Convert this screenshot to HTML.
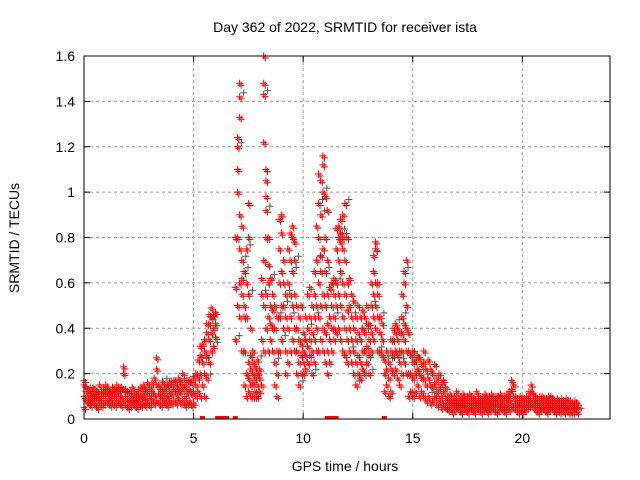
<!DOCTYPE html>
<html><head><meta charset="utf-8"><style>
body{margin:0;background:#fff;}
svg{display:block;font-family:"Liberation Sans",sans-serif;}
</style></head><body>
<svg id="chart" width="640" height="480" viewBox="0 0 640 480">
<rect width="640" height="480" fill="#fff"/>
<text x="345" y="32" font-size="14" text-anchor="middle" fill="#000">Day 362 of 2022, SRMTID for receiver ista</text>
<text x="19" y="238" font-size="14" text-anchor="middle" fill="#000" transform="rotate(-90 19 238)">SRMTID / TECUs</text>
<text x="345" y="471" font-size="14" text-anchor="middle" fill="#000">GPS time / hours</text>
<g id="grid"></g><g id="ticks"></g><g id="marks"></g>
<rect x="84" y="56" width="526" height="363" fill="none" stroke="#000" stroke-width="1"/>
</svg>
<script>
const xTicks=[0,5,10,15,20];
const yTicks=[0,0.2,0.4,0.6,0.8,1,1.2,1.4,1.6];
const yTickLabels=["0","0.2","0.4","0.6","0.8","1","1.2","1.4","1.6"];
const times=[0,0.1,0.2,0.3,0.4,0.5,0.6,0.7,0.8,0.9,1.0,1.1,1.2,1.3,1.4,1.5,1.6,1.7,1.8,1.9,2.0,2.1,2.2,2.3,2.4,2.5,2.6,2.7,2.8,2.9,3.0,3.1,3.2,3.3,3.4,3.5,3.6,3.7,3.8,3.9,4.0,4.1,4.2,4.3,4.4,4.5,4.6,4.7,4.8,4.9,5.0,5.1,5.2,5.3,5.4,5.5,5.6,5.7,5.8,5.9,6.0,
6.9,7.0,7.1,7.2,7.3,7.4,7.5,7.6,7.7,7.8,7.9,8.0,8.1,8.2,8.3,8.4,8.5,8.6,8.7,8.8,8.9,9.0,9.1,9.2,9.3,9.4,9.5,9.6,9.7,9.8,9.9,10.0,10.1,10.2,10.3,10.4,10.5,10.6,10.7,10.8,10.9,11.0,11.1,11.2,11.3,11.4,11.5,11.6,11.7,11.8,11.9,12.0,12.1,12.2,12.3,12.4,12.5,12.6,12.7,12.8,12.9,13.0,13.1,13.2,13.3,13.4,13.5,13.6,13.7,13.8,13.9,14.0,14.1,14.2,14.3,14.4,14.5,14.6,14.7,14.8,14.9,15.0,15.1,15.2,15.3,15.4,15.5,15.6,15.7,15.8,15.9,16.0,16.1,16.2,16.3,16.4,16.5,
16.6,16.7,16.8,16.9,17.0,17.1,17.2,17.3,17.4,17.5,17.6,17.7,17.8,17.9,18.0,18.1,18.2,18.3,18.4,18.5,18.6,18.7,18.8,18.9,19.0,19.1,19.2,19.3,19.4,19.5,19.6,19.7,19.8,19.9,20.0,20.1,20.2,20.3,20.4,20.5,20.6,20.7,20.8,20.9,21.0,21.1,21.2,21.3,21.4,21.5,21.6,21.7,21.8,21.9,22.0,22.1,22.2,22.3,22.4,22.5];
const values=[[0.05,0.1,0.15,0.17],[0.08,0.12,0.14],[0.07,0.1,0.13],[0.06,0.09,0.12],[0.08,0.11,0.14],[0.06,0.1,0.13],[0.05,0.09,0.12],[0.07,0.1,0.15],[0.06,0.09,0.12],[0.07,0.11,0.14],[0.08,0.12,0.15],[0.07,0.1,0.13],[0.06,0.09,0.12],[0.07,0.11,0.14],[0.06,0.1,0.13],[0.08,0.12,0.15],[0.07,0.1,0.13],[0.06,0.1,0.14],[0.08,0.13,0.2,0.23],[0.06,0.1,0.13],[0.05,0.08,0.12],[0.06,0.09,0.12],[0.07,0.1,0.14],[0.06,0.09,0.12],[0.05,0.08,0.11],[0.07,0.1,0.13],[0.06,0.1,0.14],[0.07,0.11,0.15],[0.06,0.09,0.13],[0.07,0.12,0.16],[0.06,0.1,0.14],[0.08,0.12,0.16],[0.07,0.11,0.18],[0.08,0.15,0.22,0.27],[0.07,0.11,0.15],[0.06,0.1,0.13],[0.08,0.12,0.16],[0.07,0.1,0.14],[0.06,0.1,0.15],[0.08,0.12,0.16],[0.07,0.11,0.15],[0.08,0.13,0.17],[0.07,0.11,0.15],[0.09,0.13,0.18],[0.07,0.12,0.16],[0.08,0.14,0.2],[0.06,0.1,0.15],[0.07,0.12,0.17],[0.08,0.13,0.17],[0.06,0.11,0.16],[0.07,0.12,0.18],[0.1,0.15,0.2],[0.12,0.18,0.26],[0.1,0.2,0.28,0.32],[0.15,0.25,0.33],[0.1,0.2,0.3,0.35],[0.18,0.28,0.38,0.42],[0.25,0.35,0.42,0.46],[0.3,0.38,0.45,0.49],[0.32,0.4,0.46],[0.36,0.42,0.47],
[0.35,0.58,0.8],[0.5,0.8,1.0,1.2,1.24,1.1],[0.6,0.9,1.33,1.42,1.48,0.75,0.45],[0.3,0.55,0.7,0.85,0.62],[0.15,0.3,0.5,0.65,0.45],[0.1,0.2,0.45,0.6,0.75],[0.12,0.18,0.25,0.8,0.95,0.55],[0.1,0.15,0.22,0.28,0.4],[0.1,0.16,0.2,0.25,0.3],[0.12,0.18,0.23,0.1],[0.1,0.15,0.2,0.26],[0.12,0.18,0.22],[0.15,0.35,0.55,0.62],[0.3,0.5,0.7,1.22,1.43,1.48,1.6],[0.4,0.55,0.8,0.92,0.98,1.05,1.1],[0.3,0.45,0.6,0.68,0.8],[0.35,0.5,0.42,0.62],[0.3,0.4,0.55,0.48],[0.15,0.25,0.4,0.5],[0.1,0.2,0.3,0.45],[0.3,0.45,0.6,0.75,0.88],[0.35,0.5,0.65,0.82,0.9],[0.4,0.5,0.6,0.7],[0.2,0.3,0.45,0.55],[0.25,0.4,0.6,0.75],[0.3,0.45,0.55,0.7,0.82],[0.35,0.5,0.65,0.8,0.85],[0.3,0.4,0.55,0.7,0.78],[0.2,0.3,0.4,0.5],[0.15,0.25,0.35,0.45],[0.2,0.28,0.33,0.5],[0.2,0.25,0.3,0.38],[0.22,0.28,0.35,0.45],[0.25,0.32,0.4,0.55],[0.28,0.35,0.45,0.58],[0.2,0.3,0.38,0.5],[0.25,0.35,0.45,0.55,0.65],[0.3,0.4,0.5,0.7,0.85],[0.3,0.45,0.6,0.8,0.95,1.08],[0.35,0.5,0.65,0.72,0.9,1.05],[0.3,0.4,0.55,0.75,1.0,1.12,1.16],[0.25,0.38,0.5,0.65,0.8,0.98],[0.2,0.3,0.42,0.55,0.7,0.92],[0.25,0.35,0.45,0.58],[0.3,0.4,0.5,0.6],[0.35,0.45,0.55,0.62,0.4],[0.38,0.5,0.6,0.75,0.84],[0.4,0.55,0.7,0.8,0.85],[0.35,0.5,0.65,0.78,0.82,0.88],[0.3,0.45,0.6,0.75,0.8,0.9],[0.28,0.4,0.55,0.7,0.95],[0.25,0.35,0.48,0.6,0.8],[0.3,0.4,0.5,0.62],[0.25,0.35,0.45,0.55],[0.2,0.3,0.4,0.52],[0.15,0.25,0.35,0.45],[0.2,0.28,0.38,0.5],[0.18,0.25,0.35,0.45],[0.22,0.3,0.4,0.48],[0.2,0.3,0.38,0.45],[0.25,0.32,0.42,0.5],[0.2,0.28,0.35,0.42],[0.3,0.38,0.5,0.6],[0.35,0.45,0.55,0.65,0.72],[0.4,0.5,0.6,0.75,0.78],[0.3,0.45,0.55,0.6],[0.3,0.38,0.45],[0.28,0.35,0.42],[0.12,0.2,0.26],[0.15,0.22,0.3],[0.1,0.18,0.25],[0.12,0.22,0.3,0.35],[0.2,0.28,0.35,0.4],[0.22,0.3,0.38,0.42],[0.18,0.28,0.35,0.4],[0.15,0.25,0.3,0.38],[0.2,0.3,0.38,0.45,0.55],[0.25,0.35,0.42,0.6,0.65],[0.2,0.3,0.4,0.5,0.7],[0.1,0.2,0.3,0.38],[0.12,0.2,0.28],[0.1,0.18,0.25,0.3],[0.12,0.2,0.26],[0.15,0.22,0.28],[0.1,0.2,0.27],[0.12,0.18,0.24],[0.1,0.18,0.25,0.3],[0.08,0.15,0.22],[0.1,0.18,0.26],[0.07,0.15,0.22],[0.08,0.14,0.2],[0.1,0.16,0.24],[0.06,0.12,0.18],[0.08,0.14,0.2],[0.05,0.1,0.16],[0.06,0.12,0.17],[0.05,0.09,0.14],
[0.04,0.07,0.1],[0.05,0.08,0.11],[0.03,0.06,0.09],[0.04,0.07,0.1],[0.05,0.08,0.12],[0.04,0.06,0.09],[0.03,0.07,0.1],[0.05,0.08,0.11],[0.04,0.06,0.09],[0.03,0.06,0.1],[0.05,0.08,0.11],[0.04,0.07,0.1],[0.03,0.06,0.09],[0.05,0.08,0.12],[0.04,0.07,0.1],[0.03,0.06,0.09],[0.04,0.07,0.1],[0.05,0.08,0.11],[0.03,0.06,0.09],[0.04,0.07,0.1],[0.05,0.08,0.11],[0.04,0.06,0.09],[0.03,0.07,0.1],[0.04,0.07,0.1],[0.05,0.08,0.11],[0.04,0.06,0.09],[0.03,0.06,0.1],[0.05,0.08,0.11],[0.04,0.09,0.12],[0.06,0.13,0.17],[0.05,0.1,0.15],[0.04,0.07,0.1],[0.03,0.06,0.09],[0.04,0.07,0.1],[0.03,0.06,0.09],[0.04,0.06,0.09],[0.05,0.08,0.1],[0.06,0.09,0.12],[0.07,0.12,0.15],[0.05,0.09,0.11],[0.04,0.07,0.1],[0.03,0.06,0.09],[0.04,0.07,0.1],[0.05,0.08,0.1],[0.04,0.06,0.09],[0.03,0.06,0.09],[0.04,0.07,0.1],[0.05,0.08,0.1],[0.04,0.06,0.09],[0.03,0.05,0.08],[0.04,0.06,0.09],[0.03,0.06,0.08],[0.04,0.07,0.09],[0.03,0.05,0.08],[0.04,0.06,0.09],[0.03,0.05,0.08],[0.03,0.06,0.08],[0.03,0.05,0.07],[0.04,0.06,0.08],[0.03,0.05,0.07]];
const zeroTimes=[5.4,6.1,6.3,6.4,6.5,6.9,11.1,11.2,11.3,11.4,11.5,13.7];

const NS="http://www.w3.org/2000/svg";
const L=84,R=610,T=56,B=419,XMAX=24,YMAX=1.6;
function xs(t){return L+(R-L)*t/XMAX;}
function ys(v){return B-(B-T)*v/YMAX;}
function mk(tag,attrs){const e=document.createElementNS(NS,tag);for(const k in attrs)e.setAttribute(k,attrs[k]);return e;}
const grid=document.getElementById('grid'),ticks=document.getElementById('ticks'),marks=document.getElementById('marks');
xTicks.forEach(t=>{
  const x=xs(t);
  if(t>0){const g=mk('line',{x1:x,x2:x,y1:T,y2:B,stroke:'#999','stroke-dasharray':'3,3'});
  
  
  grid.appendChild(g);}
  const tk=mk('path',{d:`M${x},${B}v-6M${x},${T}v6`,stroke:'#000'});
  
  
  ticks.appendChild(tk);
  const lb=mk('text',{x:x,y:B+24,'font-size':14,'text-anchor':'middle',fill:'#000'});
  lb.textContent=String(t);
  
  
  ticks.appendChild(lb);
});
yTicks.forEach((v,i)=>{
  const y=ys(v);
  if(v>0&&v<YMAX){const g=mk('line',{x1:L,x2:R,y1:y,y2:y,stroke:'#999','stroke-dasharray':'3,3'});
  
  
  grid.appendChild(g);}
  const tk=mk('path',{d:`M${L},${y}h6M${R},${y}h-6`,stroke:'#000'});
  
  
  ticks.appendChild(tk);
  const lb=mk('text',{x:L-9,y:y+5,'font-size':14,'text-anchor':'end',fill:'#000'});
  lb.textContent=yTickLabels[i];
  
  
  ticks.appendChild(lb);
});
let d='',dg='',n=0;
times.forEach((t,i)=>{
  values[i].forEach((v,j)=>{
    const x=xs(t),y=ys(v);
    d+=`M${x-3.5},${y}h7M${x},${y-3.5}v7`;
    d+=`M${x-2},${y+2}h7M${x+1.5},${y-1.5}v7`;
    n++;
    if(n%6===0)dg+=`M${x+0.5},${y-4}h7M${x+4},${y-7.5}v7`;
  });
});
const gp=mk('path',{d:dg,stroke:'#555','stroke-width':1,fill:'none'});


marks.appendChild(gp);
const rp=mk('path',{d:d,stroke:'#f00','stroke-width':1,fill:'none'});


marks.appendChild(rp);
zeroTimes.forEach(t=>{
  const r=mk('rect',{x:xs(t)-2.5,y:B-3,width:5,height:3,fill:'#f00'});
  
  
  marks.appendChild(r);
});
</script>
</body></html>
